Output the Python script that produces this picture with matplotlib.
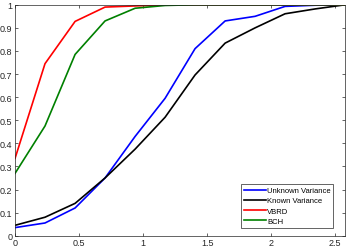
import numpy as np
import matplotlib.pyplot as plt

plt.rcParams['font.family'] = ['Liberation Sans', 'DejaVu Sans']

# values
x = [0, 0.234, 0.469, 0.703, 0.938, 1.172, 1.406, 1.641, 1.875, 2.109, 2.344, 2.578]
unknown_var = [0.035, 0.055, 0.12, 0.25, 0.43, 0.595, 0.81, 0.93, 0.95, 0.993, 0.998, 1.0]
known_var = [0.045, 0.08, 0.14, 0.25, 0.375, 0.513, 0.696, 0.834, 0.9, 0.961, 0.982, 1.0]
vbrd = [0.335, 0.745, 0.928, 0.99, 0.995, 0.999, 1.0, 1.0, 1.0, 1.0, 1.0, 1.0]
bch = [0.27, 0.475, 0.785, 0.93, 0.985, 0.997, 1.0, 1.0, 1.0, 1.0, 1.0, 1.0]

xticks = [0, 0.5, 1, 1.5, 2, 2.5]
xtick_labels = ["0", "0.5", "1", "1.5", "2", "2.5"]
yticks = np.round(np.arange(0, 1.01, 0.1), 1)
ytick_labels = ["0"] + [f"{v:g}" for v in yticks[1:-1]] + ["1"]

fig = plt.figure(figsize=(3.5, 2.51), dpi=100)
ax = fig.add_axes([0.043, 0.057, 0.943, 0.92])

ax.plot(x, unknown_var, color="#0000ff", lw=1.2, label="Unknown Variance")
ax.plot(x, known_var, color="black", lw=1.2, label="Known Variance")
ax.plot(x, vbrd, color="#ff0000", lw=1.2, label="VBRD")
ax.plot(x, bch, color="#008000", lw=1.2, label="BCH")

ax.set_xlim(0, 2.578)
ax.set_ylim(0, 1)
ax.set_xticks(xticks)
ax.set_xticklabels(xtick_labels)
ax.set_yticks(yticks)
ax.set_yticklabels(ytick_labels)

ax.tick_params(direction="in", length=2.5, width=0.5, labelsize=6.5,
               colors="#262626", top=True, right=True, pad=2)
for s in ax.spines.values():
    s.set_linewidth(0.5)
    s.set_color("#262626")

leg = ax.legend(loc="lower right", bbox_to_anchor=(0.964, 0.035),
                fontsize=5.5, fancybox=False, edgecolor="#262626",
                framealpha=1, handlelength=2.9, handletextpad=0.15,
                borderpad=0.35, labelspacing=0.38, borderaxespad=0)
leg.get_frame().set_linewidth(0.5)

fig.savefig("out.png", dpi=100)
